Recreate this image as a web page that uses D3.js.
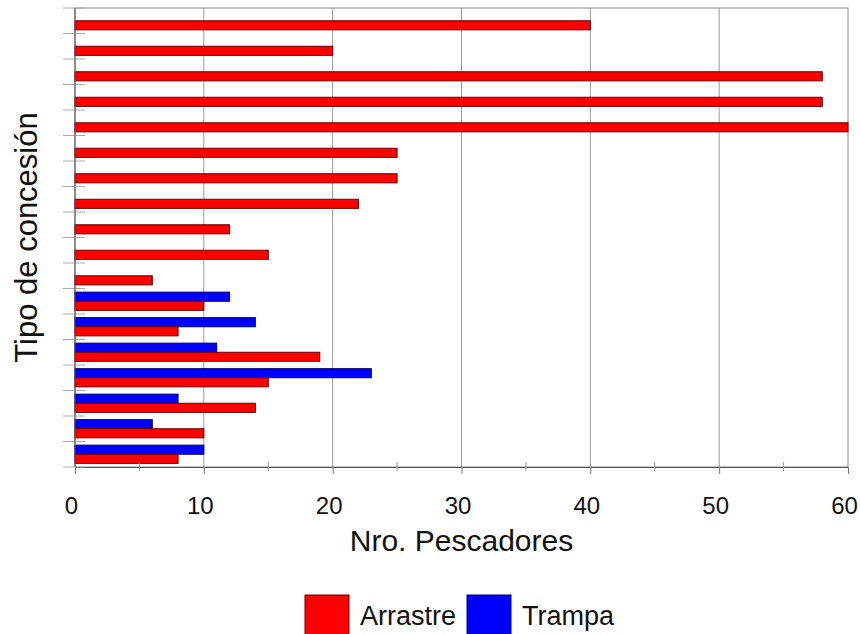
<!DOCTYPE html>
<html>
<head>
<meta charset="utf-8">
<script src="https://cdn.jsdelivr.net/npm/d3@7"></script>
<style>
body{margin:0;background:#fff;}
text{font-family:"Liberation Sans",Arial,sans-serif;fill:#111;}
</style>
</head>
<body>
<script>
// categories top to bottom (no labels shown on the chart)
var cats = ["c1","c2","c3","c4","c5","c6","c7","c8","c9","c10","c11","c12","c13","c14","c15","c16","c17","c18"];
var arrastre = [40,20,58,58,60,25,25,22,12,15,6,10,8,19,15,14,10,8];
var trampa   = [0,0,0,0,0,0,0,0,0,0,0,12,14,11,23,8,6,10];
var series = ["Trampa","Arrastre"];
var colors = {Arrastre:"#ff0000", Trampa:"#0000ff"};
var strokes = {Arrastre:"#6b0000", Trampa:"#00006b"};
var xTicks = [0,10,20,30,40,50,60];

var pLeft = 75, pRight = 848, pTop = 8, pBottom = 467;

var svg = d3.select("body").append("svg").attr("width",860).attr("height",634);

var x = d3.scaleLinear().domain([0,60]).range([pLeft,pRight]);
var y = d3.scaleBand().domain(cats).range([pTop,pBottom]).padding(0);
var ys = d3.scaleBand().domain(series).range([0,y.bandwidth()]).paddingInner(0).paddingOuter(0.4);

// vertical grid
svg.selectAll("line.grid")
  .data(xTicks.slice(1,-1))
  .enter().append("line")
    .attr("class","grid")
    .attr("x1",function(d){return x(d);})
    .attr("x2",function(d){return x(d);})
    .attr("y1",pTop)
    .attr("y2",pBottom)
    .attr("stroke","#9a9a9a")
    .attr("stroke-width",1);

// frame
svg.append("rect")
  .attr("x",pLeft).attr("y",pTop)
  .attr("width",pRight-pLeft).attr("height",pBottom-pTop)
  .attr("fill","none").attr("stroke","#8a8a8a").attr("stroke-width",1);

// bars
var rows = cats.map(function(c,i){return {cat:c, Arrastre:arrastre[i], Trampa:trampa[i]};});
var g = svg.selectAll("g.row")
  .data(rows)
  .enter().append("g")
    .attr("class","row")
    .attr("transform",function(d){return "translate(0,"+y(d.cat)+")";});

g.selectAll("rect")
  .data(function(d){return series.map(function(s){return {key:s, value:d[s]};}).filter(function(e){return e.value>0;});})
  .enter().append("rect")
    .attr("x",x(0))
    .attr("y",function(d){return ys(d.key);})
    .attr("width",function(d){return x(d.value)-x(0);})
    .attr("height",ys.bandwidth())
    .attr("fill",function(d){return colors[d.key];})
    .attr("stroke",function(d){return strokes[d.key];})
    .attr("stroke-width",1);

// x axis
var xAxis = d3.axisBottom(x).tickValues(xTicks).tickSize(7).tickPadding(23).tickFormat(d3.format("d"));
var xa = svg.append("g")
  .attr("transform","translate(0,"+pBottom+")")
  .call(xAxis);
xa.attr("font-size",null).attr("font-family",null);
xa.select(".domain").attr("stroke","#555");
xa.selectAll(".tick line").attr("stroke","#777");
xa.selectAll(".tick text").attr("dx",-4).style("font-size","24px");

// minor x ticks
svg.selectAll("line.minor")
  .data(d3.range(5,60,10))
  .enter().append("line")
    .attr("x1",function(d){return x(d);})
    .attr("x2",function(d){return x(d);})
    .attr("y1",pBottom-5)
    .attr("y2",pBottom+4)
    .attr("stroke","#999");

// y boundary ticks
svg.selectAll("line.ytick")
  .data(cats.map(function(c){return y(c);}).concat([pBottom]))
  .enter().append("line")
    .attr("x1",63).attr("x2",85)
    .attr("y1",function(d){return d;})
    .attr("y2",function(d){return d;})
    .attr("stroke","#aaa");

svg.append("line")
  .attr("x1",pLeft).attr("x2",pLeft)
  .attr("y1",pTop).attr("y2",pBottom)
  .attr("stroke","#555");

// axis titles
svg.append("text")
  .attr("x",(pLeft+pRight)/2).attr("y",551)
  .attr("text-anchor","middle")
  .style("font-size","30px")
  .text("Nro. Pescadores");

svg.append("text")
  .attr("transform","translate(37,"+((pTop+pBottom)/2)+") rotate(-90)")
  .attr("text-anchor","middle")
  .style("font-size","31px")
  .text("Tipo de concesión");

// legend
var legend = [{key:"Arrastre", x:305},{key:"Trampa", x:467}];
var lg = svg.selectAll("g.leg")
  .data(legend)
  .enter().append("g")
    .attr("transform",function(d){return "translate("+d.x+",595)";});
lg.append("rect")
  .attr("width",44).attr("height",42)
  .attr("fill",function(d){return colors[d.key];})
  .attr("stroke",function(d){return strokes[d.key];});
lg.append("text")
  .attr("x",55).attr("y",30)
  .style("font-size","27px")
  .text(function(d){return d.key;});
</script>
</body>
</html>
